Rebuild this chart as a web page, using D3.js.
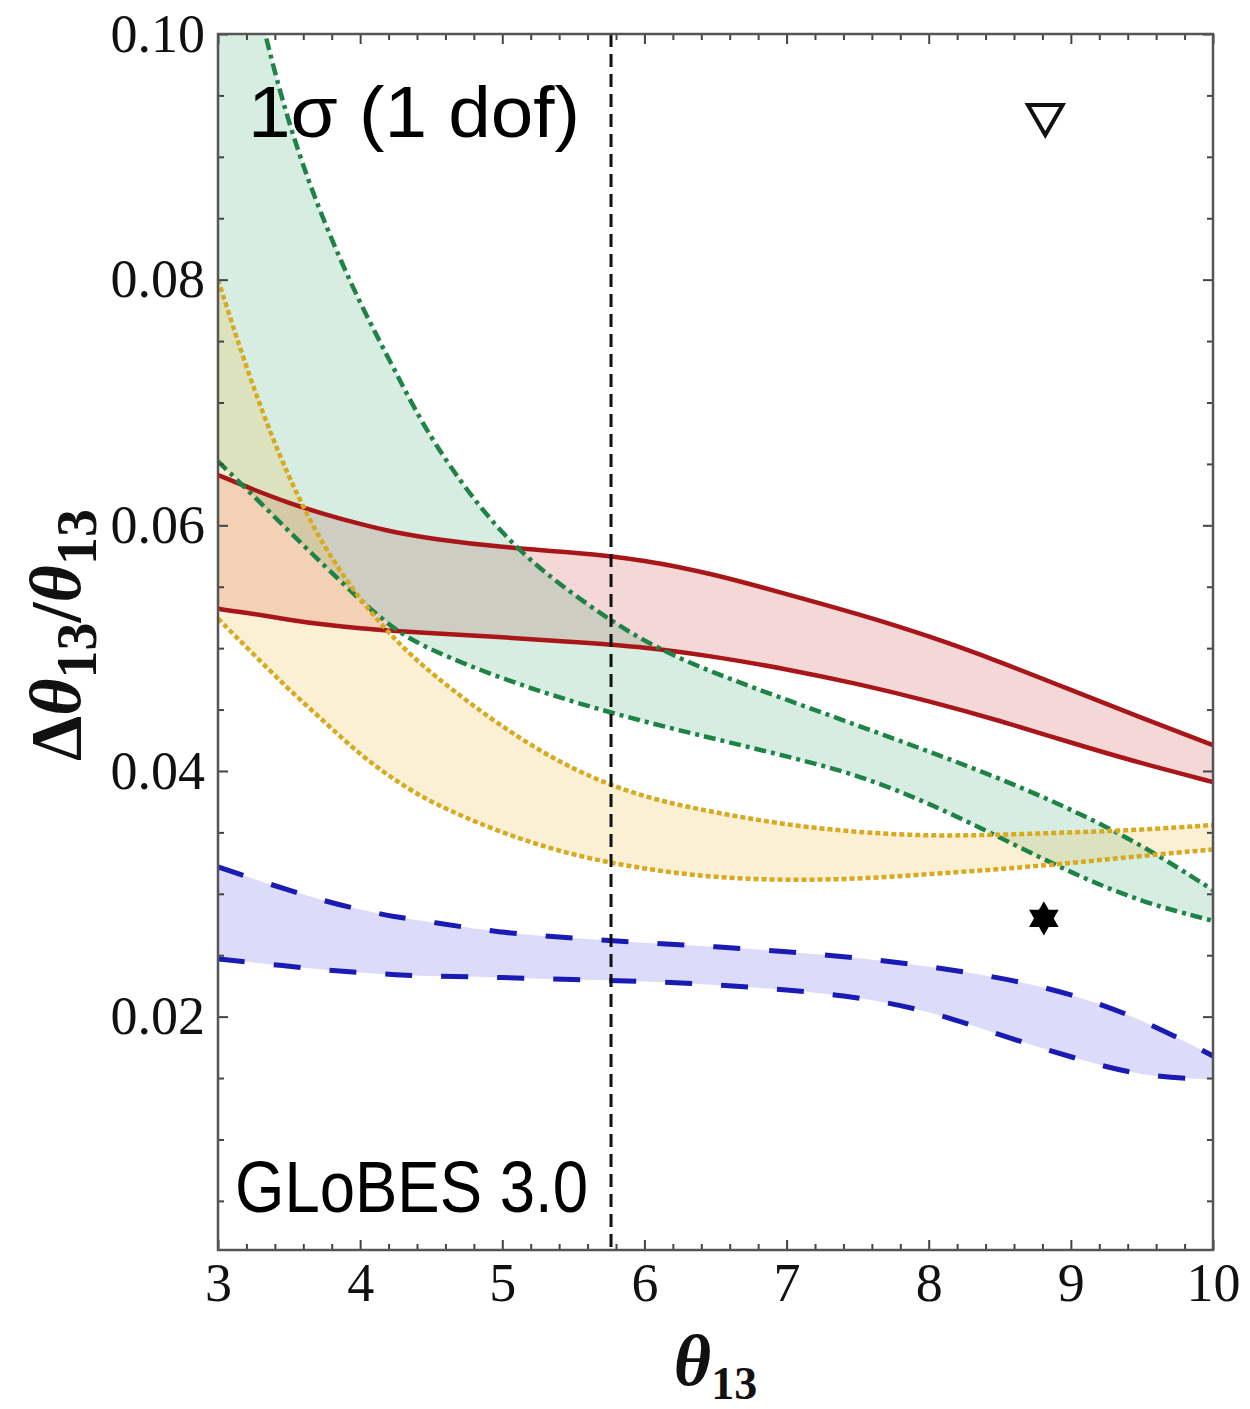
<!DOCTYPE html>
<head>
  <meta charset="utf-8">
  <script src="https://d3js.org/d3.v7.min.js"></script>
  <style>
body { margin:0; background:#fff; }
.tick text { font-family: "Liberation Serif", "Times New Roman", serif; font-size: 54px; fill: #111; }
.tick line { stroke: #444; stroke-width: 2; }
.frame { fill: none; stroke: #555; stroke-width: 2.5; }
.note { font-family: "Liberation Sans", Arial, sans-serif; font-size: 72px; fill: #000; }
.title { font-family: "Liberation Serif", "Times New Roman", serif; font-size: 72px; font-weight: bold; fill: #111; }
  </style>
</head>
<body>
<script>
// theta_13 grid and band edges
const thetaGrid   = [3, 3.25, 3.5, 3.75, 4, 4.25, 4.5, 5, 5.5, 6, 6.5, 7, 7.5, 8, 8.5, 9, 9.5, 10]
const redUpper    = [0.0641, 0.0629, 0.0618, 0.0609, 0.0601, 0.0594, 0.0589, 0.0582, 0.0578, 0.0572, 0.0560, 0.0544, 0.0528, 0.0510, 0.0489, 0.0466, 0.0443, 0.0421]
const redLower    = [0.0532, 0.0528, 0.0523, 0.0519, 0.0516, 0.0514, 0.0512, 0.0509, 0.0505, 0.0501, 0.0493, 0.0483, 0.0471, 0.0457, 0.0441, 0.0423, 0.0406, 0.0391]
const greenUpper  = [0.1183, 0.1035, 0.0923, 0.0845, 0.0780, 0.0725, 0.0668, 0.0589, 0.0543, 0.0504, 0.0479, 0.0458, 0.0437, 0.0416, 0.0394, 0.0369, 0.0340, 0.0303]
const greenLower  = [0.0652, 0.0624, 0.0595, 0.0567, 0.0539, 0.0514, 0.0498, 0.0475, 0.0456, 0.0440, 0.0426, 0.0412, 0.0397, 0.0374, 0.0346, 0.0317, 0.0293, 0.0278]
const yellowUpper = [0.0800, 0.0710, 0.0637, 0.0581, 0.0539, 0.0506, 0.0479, 0.0435, 0.0400, 0.0378, 0.0366, 0.0356, 0.0350, 0.0347, 0.0348, 0.0350, 0.0352, 0.0356]
const yellowLower = [0.0524, 0.0495, 0.0466, 0.0440, 0.0413, 0.0392, 0.0374, 0.0349, 0.0331, 0.0320, 0.0313, 0.0311, 0.0312, 0.0316, 0.0320, 0.0325, 0.0331, 0.0336]
const blueUpper   = [0.0322, 0.0312, 0.0303, 0.0294, 0.0287, 0.0281, 0.0277, 0.0268, 0.0264, 0.0260, 0.0257, 0.0253, 0.0248, 0.0241, 0.0232, 0.0219, 0.0198, 0.0168]
const blueLower   = [0.0247, 0.0244, 0.0241, 0.0238, 0.0236, 0.0234, 0.0233, 0.0232, 0.0230, 0.0229, 0.0226, 0.0222, 0.0216, 0.0205, 0.0185, 0.0167, 0.0151, 0.0149]

const xTicks = [3, 4, 5, 6, 7, 8, 9, 10]
const yTicks = [0.02, 0.04, 0.06, 0.08, 0.10]
const cutTheta = 5.765
const markerTheta = [8.82, 8.81]
const markerValue = [0.0934, 0.0280]

const W = 1250, H = 1409
const margin = { top: 34, right: 37, bottom: 159, left: 218 }

const x = d3.scaleLinear().domain([3, 10]).range([margin.left, W - margin.right])
const y = d3.scaleLinear().domain([0.001, 0.1]).range([H - margin.bottom, margin.top])

const svg = d3.select('body').append('svg')
	.attr('width', W)
	.attr('height', H)

svg.append('clipPath').attr('id', 'plot')
	.append('rect')
	.attr('x', x(3)).attr('y', y(0.1))
	.attr('width', x(10) - x(3)).attr('height', y(0.001) - y(0.1))

const bands = [
	{ hi: redUpper, lo: redLower, fill: 'rgba(200,60,60,0.2)', stroke: '#a8161a', dash: null, w: 4.5 },
	{ hi: greenUpper, lo: greenLower, fill: 'rgba(40,160,100,0.19)', stroke: '#1f8348', dash: '12,5,4,5', w: 4.5 },
	{ hi: yellowUpper, lo: yellowLower, fill: 'rgba(235,185,60,0.22)', stroke: '#d7aa22', dash: '5,3', w: 4.5 },
	{ hi: blueUpper, lo: blueLower, fill: 'rgba(80,80,230,0.2)', stroke: '#1a1ab4', dash: '27,29', w: 5 }
]

const plot = svg.append('g').attr('clip-path', 'url(#plot)')

const area = d3.area()
	.x(d => x(d.t))
	.y0(d => y(d.lo))
	.y1(d => y(d.hi))
	.curve(d3.curveBasis)

const line = d3.line()
	.x(d => x(d[0]))
	.y(d => y(d[1]))
	.curve(d3.curveBasis)

bands.forEach(b => {
	const rows = thetaGrid.map((t, i) => ({ t: t, hi: b.hi[i], lo: b.lo[i] }))
	plot.append('path')
		.attr('d', area(rows))
		.attr('fill', b.fill)
})

bands.forEach(b => {
	[b.hi, b.lo].forEach(vals => {
		plot.append('path')
			.attr('d', line(thetaGrid.map((t, i) => [t, vals[i]])))
			.attr('fill', 'none')
			.attr('stroke', b.stroke)
			.attr('stroke-width', b.w)
			.attr('stroke-dasharray', b.dash)
	})
})

// vertical reference line
plot.append('line')
	.attr('x1', x(cutTheta)).attr('x2', x(cutTheta))
	.attr('y1', y(0.1)).attr('y2', y(0.001))
	.attr('stroke', '#111')
	.attr('stroke-width', 3)
	.attr('stroke-dasharray', '13,7')

// markers
svg.append('path')
	.attr('d', d3.symbol(d3.symbolTriangle, 520)())
	.attr('transform', `translate(${x(markerTheta[0])},${y(markerValue[0])}) rotate(180)`)
	.attr('fill', 'none')
	.attr('stroke', '#111')
	.attr('stroke-width', 4)

const star = svg.append('g')
	.attr('transform', `translate(${x(markerTheta[1])},${y(markerValue[1])})`)
star.append('path').attr('d', d3.symbol(d3.symbolTriangle, 380)()).attr('fill', '#000')
star.append('path').attr('d', d3.symbol(d3.symbolTriangle, 380)()).attr('fill', '#000').attr('transform', 'rotate(180)')

// frame and ticks
const xMinor = d3.range(3, 10.001, 0.2).filter(v => Math.abs(v - Math.round(v)) > 1e-6)
const yMinor = d3.range(0.005, 0.1, 0.005).filter(v => Math.abs(v / 0.02 - Math.round(v / 0.02)) > 1e-6)

const B = y(0.001), T = y(0.1), L = x(3), R = x(10)

function axisPair(axisFn, scale, major, minor, pos, labels, fmt) {
	const g1 = svg.append('g').attr('transform', pos)
		.call(axisFn(scale).tickValues(major).tickSizeInner(-10).tickSizeOuter(0).tickPadding(labels ? 13 : 0)
			.tickFormat(labels ? fmt : ''))
	g1.select('.domain').remove()
	const g2 = svg.append('g').attr('transform', pos)
		.call(axisFn(scale).tickValues(minor).tickSizeInner(-6).tickSizeOuter(0).tickFormat(''))
	g2.select('.domain').remove()
	return g1
}

axisPair(d3.axisBottom, x, xTicks, xMinor, `translate(0,${B})`, true, d3.format('d'))
axisPair(d3.axisTop, x, xTicks, xMinor, `translate(0,${T})`, false)
axisPair(d3.axisLeft, y, yTicks, yMinor, `translate(${L},0)`, true, d3.format('.2f'))
axisPair(d3.axisRight, y, yTicks, yMinor, `translate(${R},0)`, false)

svg.selectAll('.tick text').attr('fill', '#111')

svg.append('rect').attr('class', 'frame')
	.attr('x', L).attr('y', T).attr('width', R - L).attr('height', B - T)

// annotations
svg.append('text').attr('class', 'note')
	.attr('x', 248).attr('y', 137)
	.attr('textLength', 332).attr('lengthAdjust', 'spacingAndGlyphs')
	.text('1σ (1 dof)')

svg.append('text').attr('class', 'note')
	.attr('x', 235).attr('y', 1212)
	.attr('font-size', 70)
	.attr('textLength', 353).attr('lengthAdjust', 'spacingAndGlyphs')
	.text('GLoBES 3.0')

// axis titles
const xt = svg.append('text').attr('class', 'title')
	.attr('x', (L + R) / 2).attr('y', 1385)
	.attr('text-anchor', 'middle')
xt.append('tspan').attr('font-style', 'italic').text('θ')
xt.append('tspan').attr('font-size', 46).attr('dy', 14).text('13')

const yt = svg.append('text').attr('class', 'title')
	.attr('transform', 'translate(80,635) rotate(-90)')
	.attr('text-anchor', 'middle')
	.attr('font-size', 86)
yt.append('tspan').text('Δ')
yt.append('tspan').attr('font-style', 'italic').text('θ')
yt.append('tspan').attr('font-size', 56).attr('dy', 16).text('13')
yt.append('tspan').attr('dy', -16).text('/')
yt.append('tspan').attr('font-style', 'italic').text('θ')
yt.append('tspan').attr('font-size', 56).attr('dy', 16).text('13')
</script>
</body>
